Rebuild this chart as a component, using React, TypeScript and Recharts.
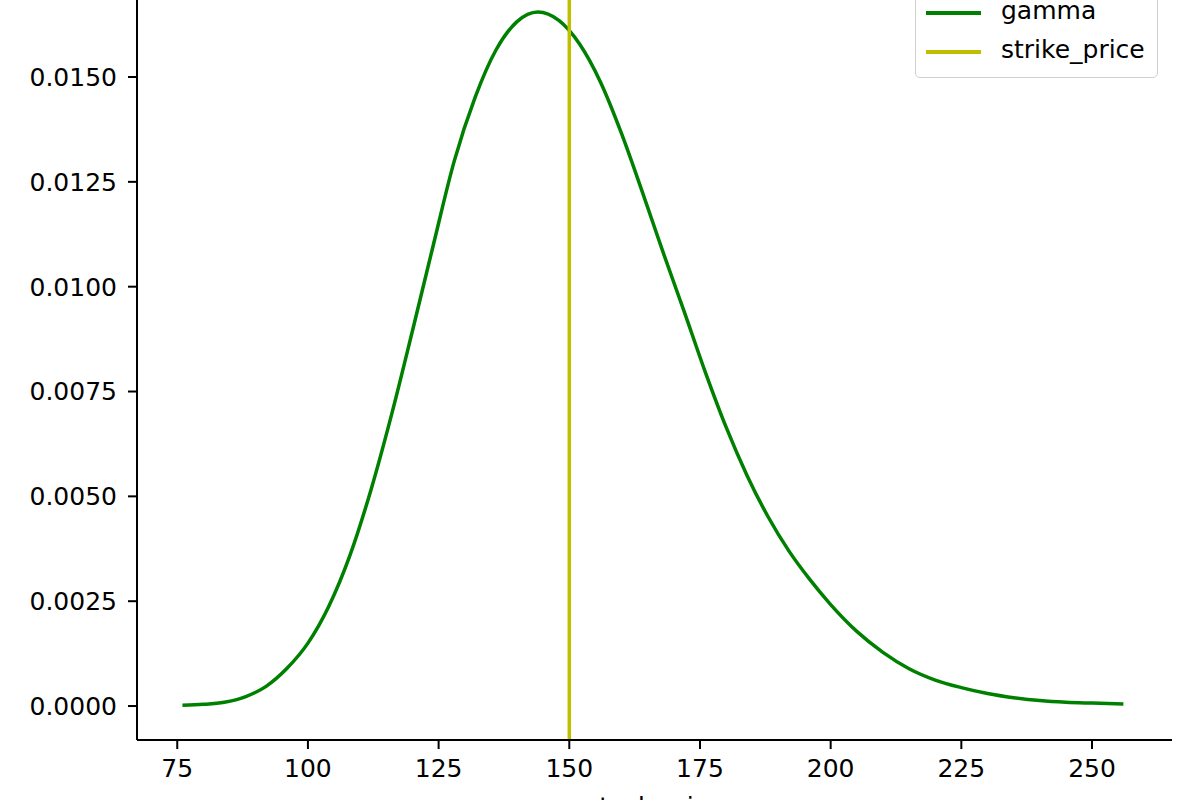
import React from 'react';
import { LineChart, Line, XAxis, YAxis, ReferenceLine } from 'recharts';

const stockPrices = [76, 80, 84, 88, 92, 96, 100, 104, 108, 112, 116, 120, 124, 128, 132, 136, 140, 144, 148, 152, 156, 160, 164, 168, 172, 176, 180, 184, 188, 192, 196, 200, 205, 210, 215, 220, 225, 230, 235, 240, 245, 250, 256];
const gammaValues = [0.00002, 0.00004, 0.00009, 0.00022, 0.00047, 0.0009, 0.0015, 0.00238, 0.00358, 0.00513, 0.00695, 0.00895, 0.011, 0.013, 0.01452, 0.01565, 0.01632, 0.01655, 0.01635, 0.01578, 0.01487, 0.01365, 0.01225, 0.0108, 0.0094, 0.00797, 0.00665, 0.0055, 0.00452, 0.0037, 0.00302, 0.00242, 0.00178, 0.00128, 0.00089, 0.00062, 0.00044, 0.0003, 0.0002, 0.00013, 0.00009, 0.00007, 0.00005];
const strikePrice = 150;
const xTicks = [75, 100, 125, 150, 175, 200, 225, 250];
const yTicks = [0, 0.0025, 0.005, 0.0075, 0.01, 0.0125, 0.015];
const legendNames = ['gamma', 'strike_price'];
const legendColors = ['#008000', '#bfbf00'];

const data = stockPrices.map((s, i) => ({ s, gamma: gammaValues[i] }));

const FONT = 'DejaVu Sans';

const LegendBox = () => (
  <div
    style={{
      position: 'absolute',
      left: 915,
      top: 25,
      width: 243,
      height: 93,
      boxSizing: 'border-box',
      border: '1.5px solid #d0d0d0',
      borderRadius: 5,
      background: 'rgba(255,255,255,0.8)',
      fontFamily: FONT,
      fontSize: 25,
    }}
  >
    {legendNames.map((n, i) => (
      <div
        key={n}
        style={{
          position: 'absolute',
          left: 0,
          top: 27 + i * 39 - 15,
          height: 30,
          display: 'flex',
          alignItems: 'center',
          whiteSpace: 'nowrap',
          color: '#000',
        }}
      >
        <div style={{ width: 55, height: 3.5, background: legendColors[i], marginLeft: 10, marginRight: 20 }} />
        <span style={{ lineHeight: '30px', marginTop: -4 }}>{n}</span>
      </div>
    ))}
  </div>
);

export default function App() {
  return (
    <div style={{ position: 'absolute', left: 0, top: -40, width: 1200, height: 880, fontFamily: FONT }}>
      <LineChart
        width={1200}
        height={880}
        data={data}
        margin={{ top: 17, right: 28, bottom: 0, left: 0 }}
      >
        <XAxis
          dataKey="s"
          type="number"
          domain={[67.3, 265.3]}
          ticks={xTicks}
          allowDataOverflow
          height={100}
          tickSize={9}
          tickMargin={10}
          tick={{ fill: '#000', fontSize: 25, fontFamily: FONT }}
          axisLine={{ stroke: '#000', strokeWidth: 2 }}
          tickLine={{ stroke: '#000', strokeWidth: 2 }}
          label={{ value: 'stock price', position: 'insideBottom', offset: 25, fill: '#000', fontSize: 25, fontFamily: FONT }}
        />
        <YAxis
          yAxisId="l"
          type="number"
          domain={[-0.00081, 0.017385]}
          ticks={yTicks}
          allowDataOverflow
          width={137}
          tickSize={9}
          tickMargin={11}
          tickFormatter={(v: number) => v.toFixed(4)}
          tick={{ fill: '#000', fontSize: 25, fontFamily: FONT }}
          axisLine={{ stroke: '#000', strokeWidth: 2 }}
          tickLine={{ stroke: '#000', strokeWidth: 2 }}
        />
        <YAxis
          yAxisId="r"
          orientation="right"
          type="number"
          domain={[0, 1]}
          width={0}
          tick={false}
          tickLine={false}
          axisLine={{ stroke: '#000', strokeWidth: 2 }}
        />
        <Line
          yAxisId="l"
          type="monotone"
          dataKey="gamma"
          name="gamma"
          stroke="#008000"
          strokeWidth={3.5}
          dot={false}
          activeDot={false}
          isAnimationActive={false}
        />
        <ReferenceLine yAxisId="l" x={strikePrice} stroke="#bfbf00" strokeWidth={3.5} />
      </LineChart>
      <LegendBox />
    </div>
  );
}
